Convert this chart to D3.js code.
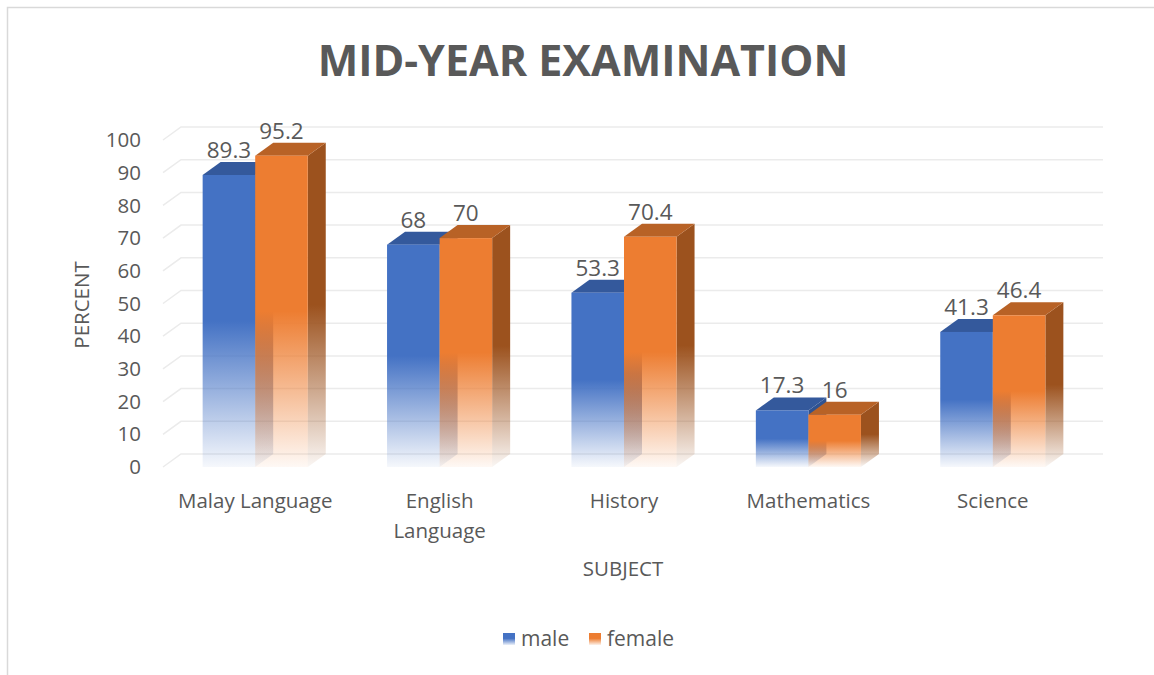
<!DOCTYPE html>
<html>
<head>
<meta charset="utf-8">
<script src="https://cdn.jsdelivr.net/npm/d3@7"></script>
<style>
  body { margin: 0; background: #fff; }
  svg text { font-family: "Open Sans", "Noto Sans", sans-serif; fill: #595959; }
</style>
</head>
<body>
<div id="chart"></div>
<script>
// data
const subjects = [["Malay Language"], ["English", "Language"], ["History"], ["Mathematics"], ["Science"]];
const male = [89.3, 68, 53.3, 17.3, 41.3];
const female = [95.2, 70, 70.4, 16, 46.4];
const yTicks = [0, 10, 20, 30, 40, 50, 60, 70, 80, 90, 100];

const seriesNames = ["male", "female"];
const palette = {
    male: {front: "#4472C4", top: "#34599C", side: "#2F5290"},
    female: {front: "#ED7D31", top: "#B86226", side: "#9C521E"}
};

let width = 1154, height = 675;
let depth = {dx: 18, dy: -13};   // offset of the back wall

let svg = d3.select("#chart").append("svg")
    .attr("width", width)
    .attr("height", height);

// chart border (only top/left visible in the picture)
svg.append("rect")
    .attr("x", 7.5).attr("y", 7.5)
    .attr("width", width + 20).attr("height", height + 20)
    .style("fill", "none").style("stroke", "#d9d9d9").style("stroke-width", 1.5);

let x = d3.scaleBand()
    .domain(subjects.map((d, i) => i))
    .range([163, 1085])
    .paddingInner(0.43).paddingOuter(0.215);

let y = d3.scaleLinear().domain([0, 100]).range([467, 140]);

// gradients: solid top half, fading to white at the floor
let defs = svg.append("defs");
seriesNames.forEach(s => {
    ["front", "side"].forEach(face => {
        let g = defs.append("linearGradient")
            .attr("id", "grad-" + s + "-" + face)
            .attr("x1", 0).attr("y1", 0).attr("x2", 0).attr("y2", 1);
        g.append("stop").attr("offset", "0%").attr("stop-color", palette[s][face]).attr("stop-opacity", 1);
        g.append("stop").attr("offset", "50%").attr("stop-color", palette[s][face]).attr("stop-opacity", 1);
        g.append("stop").attr("offset", "100%").attr("stop-color", palette[s][face]).attr("stop-opacity", 0.05);
    });
    let lg = defs.append("linearGradient")
        .attr("id", "leg-" + s)
        .attr("x1", 0).attr("y1", 0).attr("x2", 0).attr("y2", 1);
    lg.append("stop").attr("offset", "45%").attr("stop-color", palette[s].front).attr("stop-opacity", 1);
    lg.append("stop").attr("offset", "100%").attr("stop-color", palette[s].front).attr("stop-opacity", 0.1);
});

// gridlines: back wall plus the left side wall diagonal
let grid = svg.append("g");
let x0 = x.range()[0], x1 = x.range()[1];
yTicks.forEach(t => {
    grid.append("path")
        .attr("d", `M ${x0} ${y(t)} L ${x0 + depth.dx} ${y(t) + depth.dy} L ${x1 + depth.dx} ${y(t) + depth.dy}`)
        .style("fill", "none")
        .style("stroke", "#ebebeb")
        .style("stroke-width", 1.5);
});

// y tick labels
svg.append("g").selectAll("text")
    .data(yTicks)
    .enter().append("text")
    .attr("x", 141)
    .attr("y", d => y(d))
    .attr("dy", "0.35em")
    .attr("text-anchor", "end")
    .style("font-size", "20.5px")
    .text(d => d);

// bars
let sub = d3.scaleBand().domain(seriesNames).range([0, x.bandwidth()]);
let bars = svg.append("g");

function drawBar(s, i, v) {
    let bx = x(i) + sub(s), bw = sub.bandwidth();
    let top = y(v), base = y(0);
    let g = bars.append("g");
    // right side face
    g.append("path")
        .attr("d", `M ${bx + bw} ${top} L ${bx + bw + depth.dx} ${top + depth.dy} L ${bx + bw + depth.dx} ${base + depth.dy} L ${bx + bw} ${base} Z`)
        .style("fill", `url(#grad-${s}-side)`);
    // top face
    g.append("path")
        .attr("d", `M ${bx} ${top} L ${bx + depth.dx} ${top + depth.dy} L ${bx + bw + depth.dx} ${top + depth.dy} L ${bx + bw} ${top} Z`)
        .style("fill", palette[s].top);
    // front face
    g.append("rect")
        .attr("x", bx).attr("y", top)
        .attr("width", bw).attr("height", base - top)
        .style("fill", `url(#grad-${s}-front)`);
    // data label
    svg.append("text")
        .attr("x", bx + bw / 2)
        .attr("y", top + depth.dy - 4)
        .attr("text-anchor", "middle")
        .style("font-size", "22.5px")
        .text(v);
}

subjects.forEach((d, i) => {
    drawBar("male", i, male[i]);
    drawBar("female", i, female[i]);
});

// category labels
subjects.forEach((lines, i) => {
    let t = svg.append("text")
        .attr("x", x(i) + x.bandwidth() / 2)
        .attr("y", 508)
        .attr("text-anchor", "middle")
        .style("font-size", "20.5px");
    lines.forEach((l, k) => {
        t.append("tspan")
            .attr("x", x(i) + x.bandwidth() / 2)
            .attr("dy", k === 0 ? 0 : 30)
            .text(l);
    });
});

// title
svg.append("text")
    .attr("x", 583).attr("y", 76)
    .attr("text-anchor", "middle")
    .style("font-size", "43px")
    .style("font-weight", "bold")
    .text("MID-YEAR EXAMINATION");

// axis titles
svg.append("text")
    .attr("transform", "translate(89,305) rotate(-90)")
    .attr("text-anchor", "middle")
    .style("font-size", "20.5px")
    .text("PERCENT");

svg.append("text")
    .attr("x", 623).attr("y", 576)
    .attr("text-anchor", "middle")
    .style("font-size", "20.5px")
    .text("SUBJECT");

// legend
let legend = svg.append("g").attr("transform", "translate(503,633)");
let legX = [0, 86];
seriesNames.forEach((s, k) => {
    legend.append("rect")
        .attr("x", legX[k]).attr("y", 0)
        .attr("width", 12).attr("height", 12)
        .style("fill", `url(#leg-${s})`);
    legend.append("text")
        .attr("x", legX[k] + 18).attr("y", 6)
        .attr("dy", "0.35em")
        .style("font-size", "21px")
        .text(s);
});
</script>
</body>
</html>
